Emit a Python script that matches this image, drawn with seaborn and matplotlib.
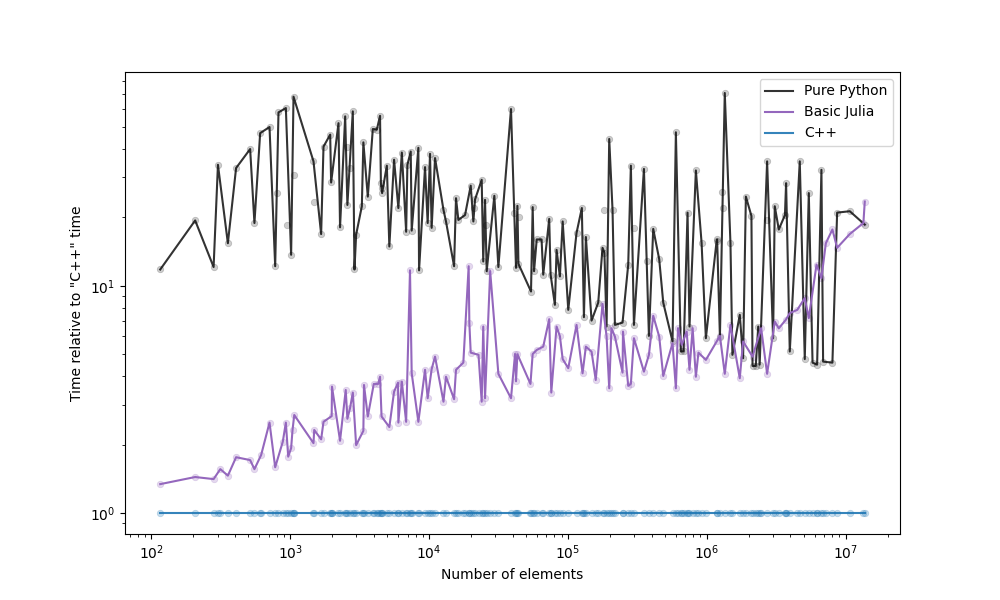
import numpy as np
import pandas as pd
import matplotlib
matplotlib.use("Agg")
import matplotlib.pyplot as plt
import seaborn as sns

# ---- data ----
python_n = [116, 207, 281, 302, 356, 408, 515, 553, 608, 710, 780, 824, 931, 1016, 1057,
            1472, 1671, 1738, 1941, 1972, 2228, 2286, 2489, 2582, 2825, 2904, 2985, 3281,
            3365, 3622, 3936, 4207, 4436, 4500, 4592, 4966, 5176, 5598, 6012, 6368, 6839,
            6982, 7379, 7499, 8375, 8472, 9354, 9772, 10160, 10440, 11040, 12700, 13240,
            15140, 15630, 16260, 18160, 19950, 20840, 21430, 23930, 24550, 25290, 26000,
            29510, 31550, 38900, 42270, 43250, 44000, 54200, 55720, 57000, 59570, 64570,
            66370, 73280, 75000, 80540, 82800, 87500, 91620, 100500, 115300, 125900,
            130300, 134600, 147900, 165200, 177400, 183000, 189700, 198200, 209400,
            217800, 247200, 271600, 283800, 298500, 352400, 382800, 411100, 453900,
            485300, 566200, 598400, 650100, 680000, 726100, 750000, 833700, 916200,
            984000, 1175000, 1186000, 1242000, 1346000, 1479000, 1528000, 1726000,
            1824000, 1910000, 2094000, 2133000, 2250000, 2344000, 2400000, 2716000,
            2999000, 3083000, 3296000, 3650000, 3720000, 3954000, 4667000, 5070000,
            5420000, 5768000, 6223000, 6683000, 6871000, 8017000, 8670000, 10690000,
            13710000]
python_t = [11.8, 19.4, 12.1, 34.1, 15.4, 33.0, 40.0, 18.9, 47.0, 50.0, 12.2, 58.0, 60.6, 13.7, 68.0,
            35.3, 16.9, 41.0, 46.3, 28.5, 52.0, 18.1, 55.7, 22.7, 58.6, 11.8, 16.8, 22.4,
            42.8, 24.7, 49.0, 48.7, 56.0, 28.3, 25.6, 33.8, 14.9, 35.9, 22.0, 38.6, 17.3,
            34.1, 39.0, 17.5, 40.5, 11.7, 33.3, 18.9, 38.1, 18.0, 36.5, 21.6, 19.2,
            12.2, 24.3, 19.5, 20.5, 27.6, 19.2, 24.0, 29.3, 12.8, 23.9, 11.6,
            24.9, 12.1, 60.0, 12.0, 22.5, 12.5, 9.44, 22.2, 11.6, 16.0, 16.0,
            11.2, 19.7, 11.2, 8.25, 14.4, 11.0, 19.2, 7.84, 17.1, 22.0,
            7.28, 16.4, 7.03, 8.44, 14.7, 14.0, 6.62, 44.3, 21.6,
            6.73, 6.89, 12.4, 33.8, 6.73, 32.7, 6.02, 17.8, 13.1,
            8.44, 5.69, 47.4, 5.14, 5.15, 21.0, 6.62, 32.2, 15.5,
            5.88, 15.7, 16.0, 5.98, 70.6, 15.4, 4.97, 7.45,
            4.8, 24.7, 20.3, 4.44, 4.44, 6.62, 4.5, 35.3,
            5.88, 22.4, 17.7, 20.5, 28.3, 5.14, 35.3, 4.76,
            25.6, 4.59, 4.5, 32.4, 4.64, 4.59, 21.0, 21.3,
            18.6]
# extra Python measurements shown only as dots
python_extra_n = [800, 945, 1057, 1480, 2560, 2700, 4600, 21000, 25500, 41000, 44500,
                  183000, 300000, 370000, 1300000, 1290000, 2700000]
python_extra_t = [25.6, 18.6, 30.8, 23.5, 41.0, 33.0, 27.0, 22.0, 18.5, 21.0, 20.0,
                  21.5, 18.0, 12.8, 22.0, 26.0, 19.5]

julia_n = [116, 207, 281, 314, 356, 408, 515, 553, 618, 710, 780, 885, 931, 968, 1016, 1040,
           1070, 1472, 1490, 1671, 1738, 1990, 2000, 2286, 2512, 2582, 2700, 2825, 2985,
           3365, 3400, 3622, 4000, 4300, 4436, 4550, 5176, 5598, 5980, 6012, 6368, 6839,
           7290, 7499, 8375, 9354, 9772, 10440, 11040, 12700, 13240, 15140, 15630, 17650,
           19280, 19500, 19950, 22700, 23930, 24550, 25290, 27540, 31550, 38900, 41600,
           42270, 43250, 53700, 55720, 59570, 66370, 73280, 75860, 82800, 87500, 91620,
           100500, 115300, 127400, 134600, 147900, 158500, 177400, 189700, 198200,
           205600, 217800, 247200, 249000, 271600, 283800, 298500, 352400, 382800,
           411100, 453900, 485300, 566200, 598400, 620000, 660000, 716000, 750000,
           790000, 833700, 870000, 984000, 1175000, 1242000, 1346000, 1479000, 1726000,
           1824000, 2133000, 2460000, 2716000, 3083000, 3296000, 3698000, 3954000,
           4480000, 5070000, 5420000, 6160000, 6683000, 7190000, 8017000, 8670000,
           10690000, 13400000, 13710000]
julia_t = [1.34, 1.44, 1.41, 1.56, 1.46, 1.76, 1.71, 1.56, 1.8, 2.5, 1.59, 2.06, 2.5, 1.77, 1.93, 2.32,
           2.7, 2.03, 2.32, 2.11, 2.52, 2.67, 3.6, 2.08, 3.48, 2.6, 2.9, 3.39, 1.99,
           2.3, 3.66, 2.66, 3.7, 3.7, 3.98, 2.66, 2.39, 3.42, 3.75, 2.5, 3.79, 2.52,
           11.7, 4.12, 2.52, 4.27, 3.2, 4.3, 4.88, 3.09, 3.98, 3.17, 4.27, 4.59,
           12.2, 6.85, 5.08, 4.97, 3.09, 6.62, 3.2, 11.6, 4.1, 3.2, 5.01,
           3.8, 5.0, 3.7, 5.01, 5.22, 5.4, 7.13, 3.39, 6.62, 6.0, 4.76,
           4.34, 6.73, 4.12, 5.4, 5.13, 3.85, 8.33, 6.0, 3.54,
           6.51, 5.98, 4.15, 6.29, 3.63, 3.7, 5.88, 4.19, 4.97,
           7.38, 5.98, 4.01, 5.59, 3.54, 6.51, 5.5, 6.29, 4.27,
           6.51, 3.98, 5.08, 4.72, 5.69, 6.02, 4.1, 6.73, 3.92,
           5.69, 4.88, 6.51, 4.1, 6.96, 6.5, 7.08, 7.58,
           7.84, 8.83, 7.21, 12.4, 10.8, 15.4, 17.7, 14.7,
           16.9, 18.9, 23.5]

cpp_n = sorted(set(python_n) | set(julia_n))
cpp_t = [1.0] * len(cpp_n)

py_df = pd.DataFrame({"n": python_n, "t": python_t})
py_dots = pd.DataFrame({"n": python_n + python_extra_n, "t": python_t + python_extra_t})
jl_df = pd.DataFrame({"n": julia_n, "t": julia_t})
cpp_df = pd.DataFrame({"n": cpp_n, "t": cpp_t})

fig, ax = plt.subplots(figsize=(10, 6), dpi=100)

py_col = "black"
jl_col = "#9467bd"
cpp_col = "#1f77b4"

sns.scatterplot(data=py_dots, x="n", y="t", ax=ax, color=py_col, alpha=0.2, s=22,
                edgecolor=py_col, linewidth=0.5, legend=False)
sns.lineplot(data=py_df, x="n", y="t", ax=ax, color=py_col, alpha=0.8,
             estimator=None, label="Pure Python")
sns.scatterplot(data=jl_df, x="n", y="t", ax=ax, color=jl_col, alpha=0.25, s=22,
                edgecolor=jl_col, linewidth=0.5, legend=False)
sns.lineplot(data=jl_df, x="n", y="t", ax=ax, color=jl_col, alpha=1.0,
             estimator=None, label="Basic Julia")
sns.scatterplot(data=cpp_df, x="n", y="t", ax=ax, color=cpp_col, alpha=0.25, s=22,
                edgecolor=cpp_col, linewidth=0.5, legend=False)
sns.lineplot(data=cpp_df, x="n", y="t", ax=ax, color=cpp_col, alpha=0.9,
             estimator=None, label="C++")

ax.set_xscale("log")
ax.set_yscale("log")
ax.set_xlabel("Number of elements")
ax.set_ylabel('Time relative to "C++" time')
ax.legend(loc="upper right")

fig.savefig("out.png", dpi=100)
